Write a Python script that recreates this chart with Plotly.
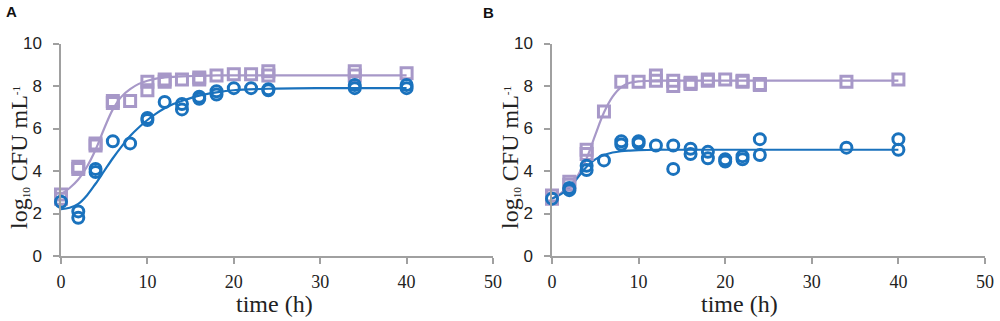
import plotly.graph_objects as go

# ---------------- data ----------------
# Panel A observations
a_sq_t = [0, 0, 2, 2, 4, 4, 6, 6, 8, 10, 10, 12, 12, 14, 16, 16, 18, 20, 22, 24, 24, 34, 34, 40]
a_sq_v = [2.9, 2.7, 4.2, 4.1, 5.3, 5.2, 7.3, 7.2, 7.3, 8.2, 7.8, 8.3, 8.2, 8.3, 8.4, 8.3, 8.5, 8.55, 8.55, 8.7, 8.5, 8.7, 8.5, 8.6]
a_ci_t = [0, 2, 2, 4, 4, 6, 8, 10, 10, 12, 14, 14, 16, 16, 18, 18, 20, 22, 24, 24, 34, 34, 40, 40]
a_ci_v = [2.55, 2.1, 1.8, 4.1, 3.95, 5.4, 5.3, 6.5, 6.4, 7.25, 7.15, 6.9, 7.5, 7.4, 7.6, 7.75, 7.9, 7.9, 7.85, 7.8, 8.05, 7.9, 8.05, 7.9]

# Panel A fitted curves
a_fit_t = [0, 1, 2, 3, 4, 5, 6, 7, 8, 9, 10, 11, 12, 13, 14, 16, 18, 20, 24, 30, 40]
a_sq_fit = [2.9, 3.2, 3.6, 4.2, 5.0, 6.0, 6.9, 7.5, 7.85, 8.1, 8.25, 8.35, 8.4, 8.43, 8.45, 8.48, 8.5, 8.5, 8.5, 8.5, 8.5]
a_ci_fit = [2.2, 2.27, 2.45, 2.85, 3.4, 4.0, 4.6, 5.15, 5.65, 6.05, 6.4, 6.7, 6.95, 7.15, 7.3, 7.55, 7.7, 7.8, 7.87, 7.9, 7.9]

# Panel B observations
b_sq_t = [0, 0, 2, 2, 4, 4, 6, 8, 10, 12, 12, 14, 14, 16, 16, 18, 18, 20, 22, 22, 24, 24, 34, 40]
b_sq_v = [2.85, 2.7, 3.5, 3.35, 5.0, 4.8, 6.8, 8.2, 8.2, 8.5, 8.25, 8.25, 8.0, 8.15, 8.1, 8.3, 8.25, 8.3, 8.25, 8.2, 8.1, 8.05, 8.2, 8.3]
b_ci_t = [0, 2, 2, 4, 4, 6, 8, 8, 10, 10, 12, 14, 14, 16, 16, 18, 18, 20, 20, 22, 22, 24, 24, 34, 40, 40]
b_ci_v = [2.7, 3.2, 3.1, 4.25, 4.05, 4.5, 5.4, 5.25, 5.4, 5.3, 5.2, 5.2, 4.1, 5.05, 4.8, 4.9, 4.6, 4.55, 4.45, 4.7, 4.55, 5.5, 4.75, 5.1, 5.5, 5.0]

# Panel B fitted curves
b_fit_t = [0, 1, 2, 3, 4, 5, 6, 7, 8, 9, 10, 12, 14, 20, 30, 40]
b_sq_fit = [2.7, 2.95, 3.3, 3.8, 4.6, 5.7, 6.75, 7.5, 7.95, 8.15, 8.22, 8.25, 8.25, 8.25, 8.25, 8.25]
b_ci_fit = [2.7, 2.9, 3.2, 3.7, 4.2, 4.55, 4.75, 4.87, 4.93, 4.96, 4.98, 5.0, 5.0, 5.0, 5.0, 5.0]

x_ticks = [0, 10, 20, 30, 40, 50]
y_ticks = [0, 2, 4, 6, 8, 10]

PURPLE = "#a798c8"
BLUE = "#1a72bd"
AXIS = "#a0a0a0"

fig = go.Figure()

def add_panel(xa, ya, sq_t, sq_v, ci_t, ci_v, fit_t, sq_fit, ci_fit):
    fig.add_trace(go.Scatter(x=fit_t, y=sq_fit, mode="lines", line=dict(color=PURPLE, width=2.2, shape="spline"),
                             xaxis=xa, yaxis=ya, showlegend=False, hoverinfo="skip"))
    fig.add_trace(go.Scatter(x=fit_t, y=ci_fit, mode="lines", line=dict(color=BLUE, width=2.2, shape="spline"),
                             xaxis=xa, yaxis=ya, showlegend=False, hoverinfo="skip"))
    fig.add_trace(go.Scatter(x=sq_t, y=sq_v, mode="markers",
                             marker=dict(symbol="square-open", size=11, color=PURPLE, line=dict(color=PURPLE, width=3)),
                             xaxis=xa, yaxis=ya, showlegend=False, cliponaxis=False))
    fig.add_trace(go.Scatter(x=ci_t, y=ci_v, mode="markers",
                             marker=dict(symbol="circle-open", size=11, color=BLUE, line=dict(color=BLUE, width=3)),
                             xaxis=xa, yaxis=ya, showlegend=False, cliponaxis=False))

add_panel("x", "y", a_sq_t, a_sq_v, a_ci_t, a_ci_v, a_fit_t, a_sq_fit, a_ci_fit)
add_panel("x2", "y2", b_sq_t, b_sq_v, b_ci_t, b_ci_v, b_fit_t, b_sq_fit, b_ci_fit)

W, H = 1000, 321
xcommon = dict(range=[0, 50], tickvals=x_ticks, showgrid=False, zeroline=False, showline=True, automargin=False,
               linecolor=AXIS, linewidth=1.5, ticks="outside", ticklen=6, tickcolor=AXIS, tickwidth=1.5,
               tickfont=dict(family="Liberation Serif", size=18, color="#222"), ticklabelstandoff=3)
ycommon = dict(range=[0, 10], tickvals=y_ticks, showgrid=False, zeroline=False, showline=True, automargin=False,
               linecolor=AXIS, linewidth=1.5, ticks="outside", ticklen=6, tickcolor=AXIS, tickwidth=1.5,
               tickfont=dict(family="Liberation Sans", size=17, color="#222"), ticklabelstandoff=8)

ydom = [1 - 256 / H, 1 - 43.5 / H]
fig.update_layout(
    width=W, height=H, margin=dict(l=0, r=0, t=0, b=0, pad=0),
    paper_bgcolor="white", plot_bgcolor="white",
    xaxis=dict(domain=[61 / W, 493 / W], anchor="y", **xcommon),
    yaxis=dict(domain=ydom, anchor="x", **ycommon),
    xaxis2=dict(domain=[552 / W, 985 / W], anchor="y2", **xcommon),
    yaxis2=dict(domain=ydom, anchor="x2", **ycommon),
)

serif = dict(family="Liberation Serif", size=24, color="#222")
ytitle = "log<span style='font-size:16px'><sub>10</sub></span> CFU mL<span style='font-size:16px'><sup>-1</sup></span>"
annots = [
    dict(text="<b>A</b>", x=4 / W, y=1 - 11.5 / H, xanchor="left", yanchor="middle",
         font=dict(family="Liberation Sans", size=15, color="#111")),
    dict(text="<b>B</b>", x=481 / W, y=1 - 12 / H, xanchor="left", yanchor="middle",
         font=dict(family="Liberation Sans", size=15, color="#111")),
    dict(text="time (h)", x=274 / W, y=1 - 304 / H, xanchor="center", yanchor="middle", font=serif),
    dict(text="time (h)", x=739 / W, y=1 - 304 / H, xanchor="center", yanchor="middle", font=serif),
    dict(text=ytitle, x=19 / W, y=1 - 158 / H, textangle=-90,
         xanchor="center", yanchor="middle", font=serif),
    dict(text=ytitle, x=510 / W, y=1 - 158 / H, textangle=-90,
         xanchor="center", yanchor="middle", font=serif),
]
for a in annots:
    a.update(xref="paper", yref="paper", showarrow=False)
fig.update_layout(annotations=annots)

fig.write_html("out.html", config={"displayModeBar": False},
               post_script="document.body.style.margin='0';document.body.style.overflow='hidden';")
